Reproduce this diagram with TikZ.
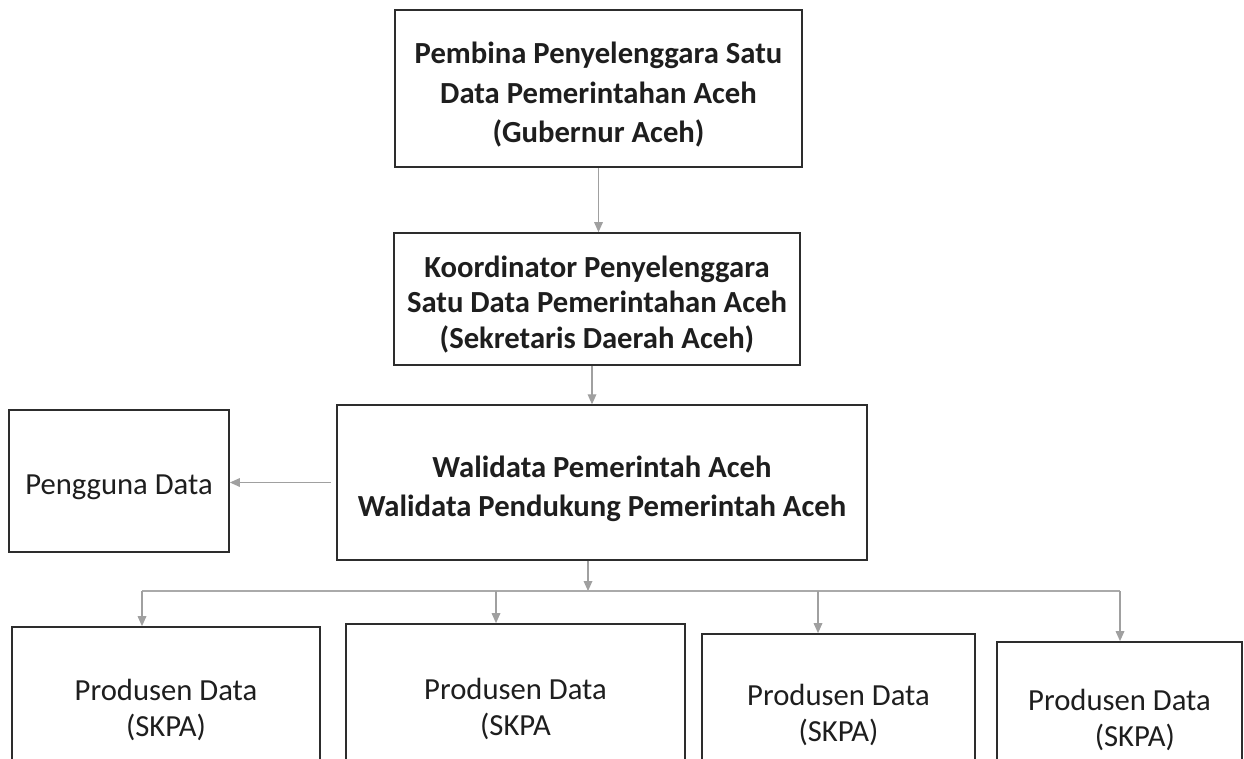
\documentclass[tikz,border=0pt]{standalone}
\usepackage{fontspec}
\setmainfont{Carlito}
\usetikzlibrary{arrows.meta}

% text block with some extra room above, so it sits a little low in its box
\newcommand{\lowertext}[1]{\raisebox{0pt}[\dimexpr\height+10pt\relax]{\begin{tabular}{@{}c@{}}#1\end{tabular}}}

\tikzset{every picture/.style={line width=0.75pt}}
\tikzset{
  box/.style={draw={rgb,255:red,45;green,45;blue,45}, line width=1.3pt, rectangle, align=center, text={rgb,255:red,30;green,30;blue,30}, inner sep=0pt},
  boldtxt/.style={font=\fontsize{23}{29.5}\selectfont\bfseries},
  plaintxt/.style={font=\fontsize{23}{26.5}\selectfont},
  conn/.style={draw={rgb,255:red,160;green,160;blue,160}, line width=0.9pt, -{Triangle[length=7.5pt,width=6.5pt]}},
  busline/.style={draw={rgb,255:red,170;green,170;blue,170}, line width=0.8pt}
}

\begin{document}
\begin{tikzpicture}[x=0.75pt,y=0.75pt,yscale=-1,xscale=1]
	\useasboundingbox (0,0) rectangle (1244,758);

	%Shape: Rectangle [id:pembina]
	\node [box, boldtxt, minimum width=305pt, minimum height=118pt] (pembina) at (598.5,88.5) {\lowertext{Pembina Penyelenggara Satu\\Data Pemerintahan Aceh\\(Gubernur Aceh)}};
	%Shape: Rectangle [id:koordinator]
	\node [box, boldtxt, font=\fontsize{23}{26.5}\selectfont\bfseries, minimum width=305pt, minimum height=99pt] (koordinator) at (597,299) {\lowertext{Koordinator Penyelenggara\\Satu Data Pemerintahan Aceh\\(Sekretaris Daerah Aceh)}};
	%Shape: Rectangle [id:walidata]
	\node [box, boldtxt, minimum width=397.5pt, minimum height=116pt] (walidata) at (602,482.5) {\lowertext{Walidata Pemerintah Aceh\\Walidata Pendukung Pemerintah Aceh}};
	%Shape: Rectangle [id:pengguna]
	\node [box, plaintxt, minimum width=165pt, minimum height=106.5pt] (pengguna) at (119,481) {\lowertext{Pengguna Data}};

	%Shape: Rectangle [id:produsenA]
	\node [box, plaintxt, minimum width=231pt, minimum height=124.5pt] (produsenA) at (166,710) {Produsen Data\\(SKPA)};
	%Shape: Rectangle [id:produsenB]
	\node [box, plaintxt, minimum width=254pt, minimum height=127.5pt] (produsenB) at (515.5,709) {Produsen Data\\(SKPA};
	%Shape: Rectangle [id:produsenC]
	\node [box, plaintxt, minimum width=205pt, minimum height=121.5pt] (produsenC) at (838.5,715) {Produsen Data\\(SKPA)};
	%Shape: Rectangle [id:produsenD]
	\node [box, plaintxt, minimum width=184pt, minimum height=117pt] (produsenD) at (1119.5,720) {Produsen Data\\\hspace*{1em}(SKPA)};

	%Straight Lines
	\draw [conn] (pembina.south) -- (pembina.south |- koordinator.north) ;
	\draw [conn] ([xshift=-3.75pt]koordinator.south) -- ([xshift=-3.75pt]koordinator.south |- walidata.north) ;
	\draw [conn] ([xshift=-4pt]walidata.west) -- (walidata.west -| pengguna.east) ;

	%Bus to producers
	\coordinate (bus) at (588,591) ;
	\coordinate (busA) at (142,591) ;
	\coordinate (busB) at (496,591) ;
	\coordinate (busC) at (818,591) ;
	\coordinate (busD) at (1120,591) ;
	\draw [conn] (walidata.south -| bus) -- (bus) ;
	\draw [busline] (busA) -- (busD) ;
	\draw [conn] (busA) -- (busA |- produsenA.north) ;
	\draw [conn] (busB) -- (busB |- produsenB.north) ;
	\draw [conn] (busC) -- (busC |- produsenC.north) ;
	\draw [conn] (busD) -- (busD |- produsenD.north) ;

\end{tikzpicture}
\end{document}
